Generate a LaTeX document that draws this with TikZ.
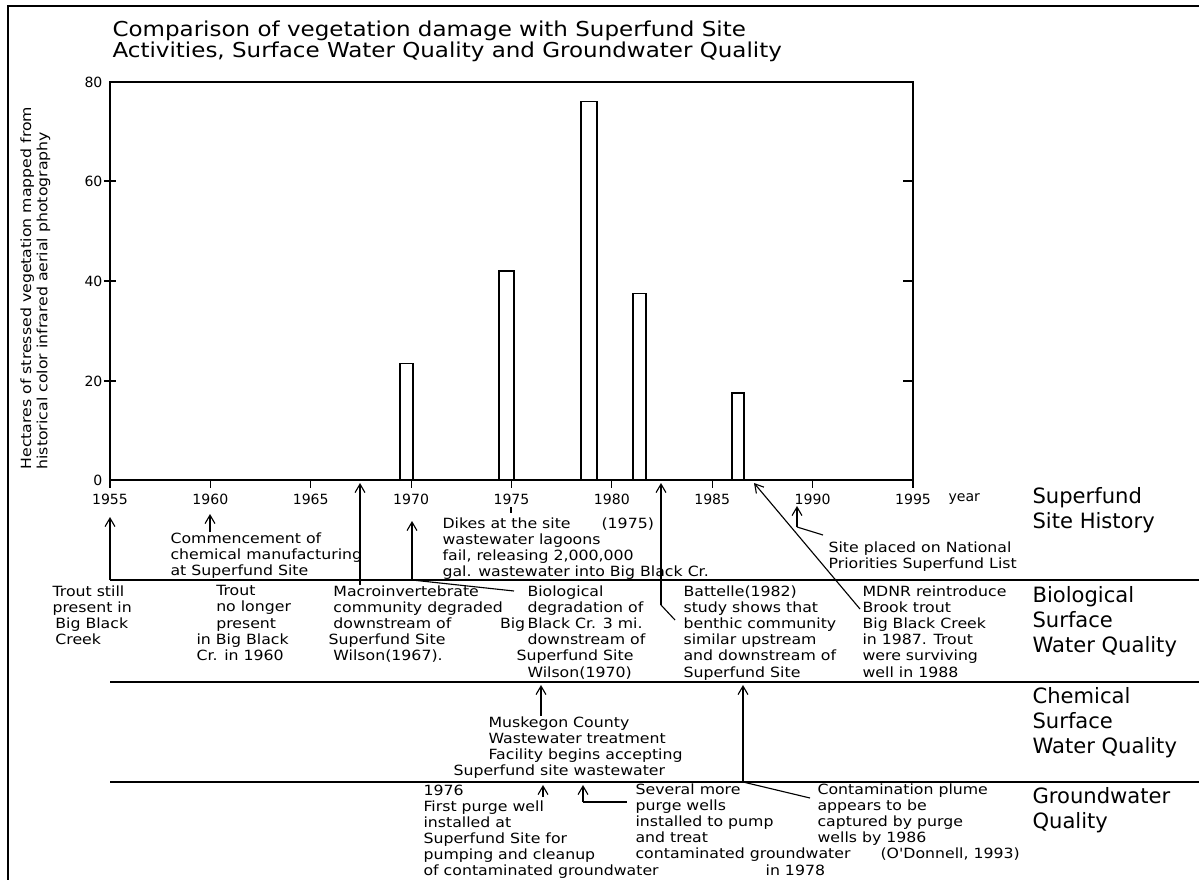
\documentclass[tikz,border=0pt]{standalone}
\usepackage{fontspec}
\setmainfont{DejaVu Sans}
\newfontfamily\cadfont{DejaVu Sans}[FakeStretch=1.12]
\usetikzlibrary{arrows.meta}

\newcommand\notesize{\cadfont\fontsize{10}{11.5}\selectfont}
\newcommand\ticksize{\fontsize{10}{12}\selectfont}
\newcommand\bandsize{\fontsize{15}{17.8}\selectfont}
\newcommand\titlesize{\cadfont\fontsize{14.6}{15.3}\selectfont\lineskiplimit=-20pt}

\begin{document}
\begin{tikzpicture}
  [x=0.025cm,y=-0.025cm,line width=0.8pt,
   every node/.style={inner sep=0pt},
   note/.style={font=\notesize,align=left,anchor=north west},
   band/.style={font=\bandsize,align=left,anchor=north west},
   ticklbl/.style={font=\ticksize},
   arr/.style={-{Straight Barb[length=6pt,width=7pt]}}]

  \useasboundingbox (0,0) rectangle (1199,880);
  \draw (8,880) -- (8,6) -- (1199,6);

  \node[note,font=\titlesize] (title) at (112,20)
    {Comparison of vegetation damage with Superfund Site\\Activities, Surface Water Quality and Groundwater Quality};
  \node[note,rotate=90] (ylab) at (20,470)
    {Hectares of stressed vegetation mapped from\\historical color infrared aerial photography};

  \draw (110,82) rectangle (913,480);
  \foreach \v/\y in {0/480,20/381,40/281,60/181,80/82}
    \node[ticklbl,anchor=east] (v\v) at (103,\y) {\v};
  \foreach \y in {181,281,381} {
    \draw (104,\y) -- (116,\y);
    \draw (903,\y) -- (913,\y);
  }
  \foreach \yr in {1955,1960,...,1995} {
    \pgfmathsetmacro\xx{110+20.075*(\yr-1955)}
    \draw (\xx,480) -- (\xx,488);
    \node[ticklbl] (y\yr) at (\xx,499) {\yr};
  }
  \node[ticklbl,anchor=west] (yr) at (948,499) {year};
  \foreach \l/\r/\h in {400/413/23.5,499/514/42,581/597/76,633/646/37.5,732/744/17.5}
    \draw (\l,480) rectangle (\r,{480-4.975*\h});

  \foreach \n/\y in {A/580,B/682,C/782} {
    \coordinate (s\n) at (110,\y);
    \coordinate (e\n) at (1199,\y);
    \draw (s\n) -- (e\n);
  }

  \node[band] (sfh)  at (1032,487) {Superfund\\Site History};
  \node[band] (bswq) at (1032,586) {Biological\\Surface\\Water Quality};
  \node[band] (cswq) at (1032,687) {Chemical\\Surface\\Water Quality};
  \node[band] (gwq)  at (1032,787) {Groundwater\\Quality};

  \node[note] (commence) at (170,532) {Commencement of\\chemical manufacturing\\at Superfund Site};
  \node[note] (dikes) at (442,517) {Dikes at the site\hspace{22pt}(1975)\\wastewater lagoons\\fail, releasing 2,000,000\\gal. wastewater into Big Black Cr.};
  \node[note] (siteplaced) at (828,541) {Site placed on National\\Priorities Superfund List};

  \node[note] (trout55) at (52,585) {Trout still\\present in\\\hspace*{2pt}Big Black\\\hspace*{2pt}Creek};
  \node[note] (trout60) at (196,585) {\hspace*{14pt}Trout\\\hspace*{14pt}no longer\\\hspace*{14pt}present\\in Big Black\\Cr. in 1960};
  \node[note] (macro) at (328,585) {\hspace*{3.5pt}Macroinvertebrate\\\hspace*{3.5pt}community degraded\\\hspace*{3.5pt}downstream of\\Superfund Site\\\hspace*{3.5pt}Wilson(1967).};
  \node[note] (biodeg) at (516,585) {\hspace*{7.8pt}Biological\\\hspace*{7.8pt}degradation of\\\hspace*{7.8pt}\llap{Big\,}Black Cr. 3 mi.\\\hspace*{7.8pt}downstream of\\Superfund Site\\\hspace*{7.8pt}Wilson(1970)};
  \node[note] (battelle) at (683,585) {Battelle(1982)\\study shows that\\benthic community\\similar upstream\\and downstream of\\Superfund Site};
  \node[note] (mdnr) at (862,585) {MDNR reintroduce\\Brook trout\\Big Black Creek\\in 1987. Trout\\were surviving\\well in 1988};

  \node[note] (muskegon) at (453,716) {\hspace*{24.9pt}Muskegon County\\\hspace*{24.9pt}Wastewater treatment\\\hspace*{24.9pt}Facility begins accepting\\Superfund site wastewater};

  \node[note] (purge76) at (423,784) {1976\\First purge well\\installed at\\Superfund Site for\\pumping and cleanup\\of contaminated groundwater};
  \node[note] (several) at (635,783) {Several more\\purge wells\\installed to pump\\and treat\\contaminated groundwater\\\hspace*{92.5pt}in 1978};
  \node[note] (plume) at (817,783) {Contamination plume\\appears to be\\captured by purge\\wells by 1986\\\hspace*{44.8pt}(O'Donnell, 1993)};

  \coordinate (h55) at (110,517);
  \coordinate (h60) at (210,514);
  \coordinate (k60) at (commence.north -| h60);
  \coordinate (h67) at (360,483);
  \coordinate (k67) at (macro.north -| h67);
  \coordinate (h70) at (412,521);
  \coordinate (k70) at (412,580);
  \coordinate (e70) at ([shift={(-2,6)}]biodeg.north west);
  \coordinate (t75) at (511,507);
  \coordinate (b75) at (511,513);
  \coordinate (h82) at (661,483);
  \coordinate (k82) at (661,605);
  \coordinate (e82) at ([shift={(-8,35)}]battelle.north west);
  \coordinate (h87) at (754,483);
  \coordinate (k87) at ([shift={(-2,24)}]mdnr.north west);
  \coordinate (h89) at (797,506);
  \coordinate (k89) at (797,527);
  \coordinate (e89) at ([shift={(-5,-6)}]siteplaced.north west);
  \coordinate (hmu) at (541,685);
  \coordinate (kmu) at (muskegon.north -| hmu);
  \coordinate (hpl) at (743,685);
  \coordinate (kpl) at (743,782);
  \coordinate (epl) at ([shift={(-7,15)}]plume.north west);
  \coordinate (hpw) at (543,785);
  \coordinate (kpw) at (543,797);
  \coordinate (hsv) at (583,785);
  \coordinate (ksv) at (583,802);
  \coordinate (esv) at ([shift={(-8,19)}]several.north west);

  \foreach \from/\to in {sA/h55,k60/h60,k67/h67,k70/h70,k82/h82,k87/h87,k89/h89,kmu/hmu,kpl/hpl,kpw/hpw,ksv/hsv}
    \draw[arr] (\from) -- (\to);
  \foreach \from/\to in {k70/e70,t75/b75,k82/e82,k89/e89,kpl/epl,ksv/esv}
    \draw (\from) -- (\to);

\end{tikzpicture}
\end{document}
